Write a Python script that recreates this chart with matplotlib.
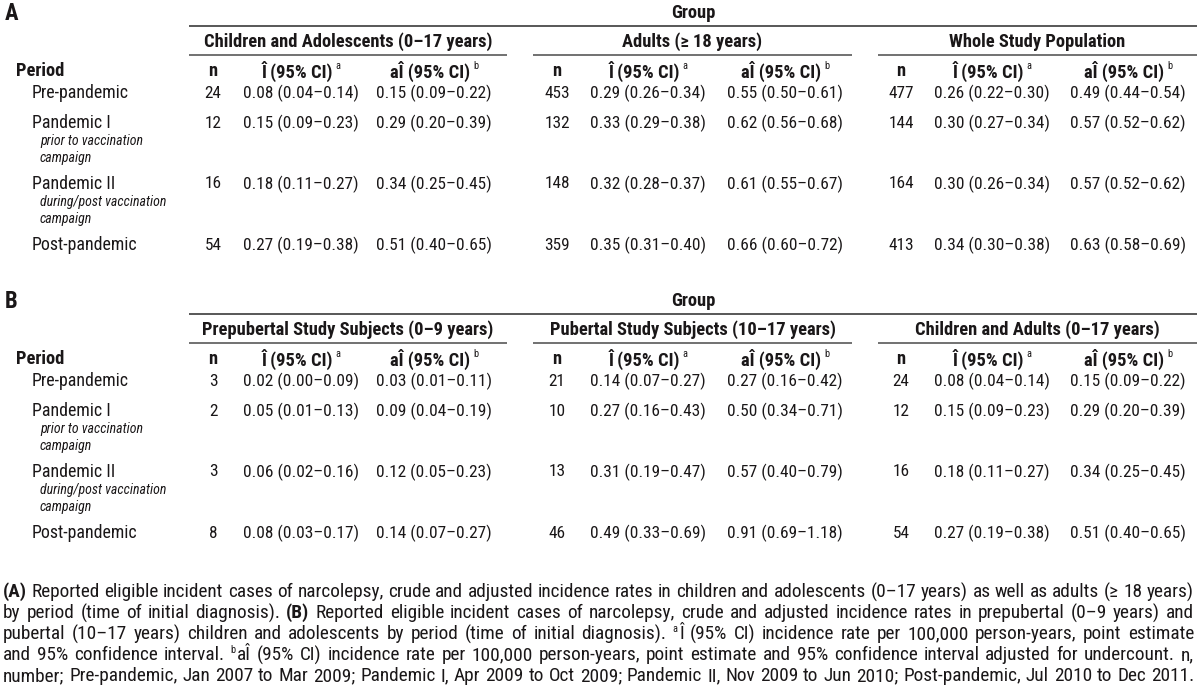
import matplotlib
matplotlib.use('Agg')
import matplotlib.pyplot as plt
from matplotlib import font_manager as fm

# ---------------- data ----------------
periods = ['Pre-pandemic', 'Pandemic I', 'Pandemic II', 'Post-pandemic']
period_notes = ['', 'prior to vaccination\ncampaign', 'during/post vaccination\ncampaign', '']

groups_A = ['Children and Adolescents (0–17 years)', 'Adults (≥ 18 years)', 'Whole Study Population']
n_A = [[24, 12, 16, 54], [453, 132, 148, 359], [477, 144, 164, 413]]
I_A = [[0.08, 0.15, 0.18, 0.27], [0.29, 0.33, 0.32, 0.35], [0.26, 0.30, 0.30, 0.34]]
I_A_lo = [[0.04, 0.09, 0.11, 0.19], [0.26, 0.29, 0.28, 0.31], [0.22, 0.27, 0.26, 0.30]]
I_A_hi = [[0.14, 0.23, 0.27, 0.38], [0.34, 0.38, 0.37, 0.40], [0.30, 0.34, 0.34, 0.38]]
aI_A = [[0.15, 0.29, 0.34, 0.51], [0.55, 0.62, 0.61, 0.66], [0.49, 0.57, 0.57, 0.63]]
aI_A_lo = [[0.09, 0.20, 0.25, 0.40], [0.50, 0.56, 0.55, 0.60], [0.44, 0.52, 0.52, 0.58]]
aI_A_hi = [[0.22, 0.39, 0.45, 0.65], [0.61, 0.68, 0.67, 0.72], [0.54, 0.62, 0.62, 0.69]]

groups_B = ['Prepubertal Study Subjects (0–9 years)', 'Pubertal Study Subjects (10–17 years)',
            'Children and Adults (0–17 years)']
n_B = [[3, 2, 3, 8], [21, 10, 13, 46], [24, 12, 16, 54]]
I_B = [[0.02, 0.05, 0.06, 0.08], [0.14, 0.27, 0.31, 0.49], [0.08, 0.15, 0.18, 0.27]]
I_B_lo = [[0.00, 0.01, 0.02, 0.03], [0.07, 0.16, 0.19, 0.33], [0.04, 0.09, 0.11, 0.19]]
I_B_hi = [[0.09, 0.13, 0.16, 0.17], [0.27, 0.43, 0.47, 0.69], [0.14, 0.23, 0.27, 0.38]]
aI_B = [[0.03, 0.09, 0.12, 0.14], [0.27, 0.50, 0.57, 0.91], [0.15, 0.29, 0.34, 0.51]]
aI_B_lo = [[0.01, 0.04, 0.05, 0.07], [0.16, 0.34, 0.40, 0.69], [0.09, 0.20, 0.25, 0.40]]
aI_B_hi = [[0.11, 0.19, 0.23, 0.27], [0.42, 0.71, 0.79, 1.18], [0.22, 0.39, 0.45, 0.65]]

caption_lines = [
    "**(A)** Reported eligible incident cases of narcolepsy, crude and adjusted incidence rates in children and adolescents (0–17 years) as well as adults (≥ 18 years)",
    "by period (time of initial diagnosis). **(B)** Reported eligible incident cases of narcolepsy, crude and adjusted incidence rates in prepubertal (0–9 years) and",
    "pubertal (10–17 years) children and adolescents by period (time of initial diagnosis). ^aÎ (95% CI) incidence rate per 100,000 person-years, point estimate",
    "and 95% confidence interval. ^baÎ (95% CI) incidence rate per 100,000 person-years, point estimate and 95% confidence interval adjusted for undercount. n,",
    "number; Pre-pandemic, Jan 2007 to Mar 2009; Pandemic I, Apr 2009 to Oct 2009; Pandemic II, Nov 2009 to Jun 2010; Post-pandemic, Jul 2010 to Dec 2011.",
]


# ---------------- fonts ----------------
def pick_font():
    for fam in ['Liberation Sans Narrow', 'Arial Narrow', 'Roboto Condensed', 'Liberation Sans']:
        try:
            fm.findfont(fm.FontProperties(family=fam), fallback_to_default=False)
            return fam
        except Exception:
            pass
    return 'DejaVu Sans'


FONT = pick_font()
plt.rcParams['font.family'] = [FONT, 'DejaVu Sans']

TXT = '#1a1718'
LINE = '#4a4a4a'

fig = plt.figure(figsize=(12, 6.95), dpi=100)
ax = fig.add_axes([0, 0, 1, 1])
ax.set_xlim(0, 1200)
ax.set_ylim(695, 0)
ax.axis('off')
renderer = fig.canvas.get_renderer()


def measure(s, fs=12.0, **kw):
    t = ax.text(0, -100, s, fontsize=fs, **kw)
    w = t.get_window_extent(renderer).width
    t.remove()
    return w


def fit(s, target, **kw):
    return 12.0 * target / measure(s, 12.0, **kw)


# font sizes fitted to the text widths measured on the reference
FS_DATA = fit('0.08 (0.04–0.14)', 114)
FS = fit('Pre-pandemic', 97)
FS_HEAD = fit(groups_A[0], 289, fontweight='bold')
FS_NOTE = fit('prior to vaccination', 103, style='italic')
FS_SUP = 7.5


def T(x, y, s, **kw):
    kw.setdefault('fontsize', FS)
    kw.setdefault('color', TXT)
    kw.setdefault('va', 'center')
    return ax.text(x, y, s, **kw)


def width(t):
    return t.get_window_extent(renderer).width


def header_with_sup(xc, y, main, sup):
    t = T(0, y, main, ha='left', fontweight='bold', fontsize=FS_HEAD)
    s = T(0, y - 5, sup, ha='left', fontsize=FS_SUP)
    w1, w2 = width(t), width(s)
    gap = 3
    x0 = xc - (w1 + gap + w2) / 2
    t.set_x(x0)
    s.set_x(x0 + w1 + gap)


# column geometry
line_left = 189
line_right = 1197
grp_span = [(189, 507), (533, 852), (878, 1197)]
col_n = [213, 557, 901]
col_I = [301, 648, 992]
col_aI = [434, 785, 1128]


def fmt(v, lo, hi):
    return f"{v:.2f} ({lo:.2f}–{hi:.2f})"


def draw_section(label, y0, groups, n, I, Ilo, Ihi, aI, aIlo, aIhi):
    T(5, y0 + 13, label, ha='left', fontweight='bold', fontsize=FS_HEAD + 3)
    T((line_left + line_right) / 2, y0 + 13, 'Group', ha='center', fontweight='bold', fontsize=FS_HEAD)
    ax.plot([line_left, line_right], [y0 + 26, y0 + 26], color=LINE, lw=1.3, solid_capstyle='butt')
    for g, (a, b) in enumerate(grp_span):
        T((a + b) / 2, y0 + 42, groups[g], ha='center', fontweight='bold', fontsize=FS_HEAD)
        ax.plot([a, b], [y0 + 55, y0 + 55], color=LINE, lw=1.1, solid_capstyle='butt')
        T(col_n[g], y0 + 71, 'n', ha='center', fontweight='bold', fontsize=FS_HEAD)
        header_with_sup(col_I[g], y0 + 71, 'Î (95% CI)', 'a')
        header_with_sup(col_aI[g], y0 + 71, 'aÎ (95% CI)', 'b')
    T(16, y0 + 71, 'Period', ha='left', fontweight='bold', fontsize=FS_HEAD)
    row_y = [y0 + 93, y0 + 123, y0 + 184, y0 + 245]
    for r, name in enumerate(periods):
        y = row_y[r]
        T(32, y, name, ha='left')
        if period_notes[r]:
            for k, ln in enumerate(period_notes[r].split('\n')):
                T(40, y + 18 + 17 * k, ln, ha='left', style='italic', fontsize=FS_NOTE)
        for g in range(3):
            T(col_n[g], y, str(n[g][r]), ha='center', fontsize=FS_DATA)
            T(col_I[g], y, fmt(I[g][r], Ilo[g][r], Ihi[g][r]), ha='center', fontsize=FS_DATA)
            T(col_aI[g], y, fmt(aI[g][r], aIlo[g][r], aIhi[g][r]), ha='center', fontsize=FS_DATA)


draw_section('A', 0, groups_A, n_A, I_A, I_A_lo, I_A_hi, aI_A, aI_A_lo, aI_A_hi)
draw_section('B', 288, groups_B, n_B, I_B, I_B_lo, I_B_hi, aI_B, aI_B_lo, aI_B_hi)


# ---------------- caption (justified) ----------------
def parse_word(w):
    pieces = []
    if w.startswith('**') and w.endswith('**'):
        return [(w[2:-2], 'b')]
    if w.startswith('^'):
        pieces.append((w[1], 'sup'))
        w = w[2:]
    if w:
        pieces.append((w, 'n'))
    return pieces


cap_left, cap_right = 3, 1194
nat = [measure(line.replace('**', '').replace('^a', 'a').replace('^b', 'b'), 13.0)
       for line in caption_lines]
FS_CAP = 13.0 * (cap_right - cap_left - 4) / max(nat)

cap_y0, cap_dy = 592, 21
for li, line in enumerate(caption_lines):
    y = cap_y0 + li * cap_dy
    words = [parse_word(w) for w in line.split(' ')]
    word_objs = []
    for pieces in words:
        objs = []
        for txt, sty in pieces:
            if sty == 'sup':
                t = T(0, y - 5, txt, ha='left', fontsize=FS_SUP)
            elif sty == 'b':
                t = T(0, y, txt, ha='left', fontsize=FS_CAP, fontweight='bold')
            else:
                t = T(0, y, txt, ha='left', fontsize=FS_CAP)
            objs.append((t, width(t) + (1 if sty == 'sup' else 0)))
        word_objs.append(objs)
    total = sum(w for objs in word_objs for _, w in objs)
    gaps = len(word_objs) - 1
    gap = max((cap_right - cap_left - total) / gaps, 2.5)
    x = cap_left
    for objs in word_objs:
        for t, w in objs:
            t.set_x(x)
            x += w
        x += gap

fig.savefig('out.png', dpi=100, facecolor='white')
